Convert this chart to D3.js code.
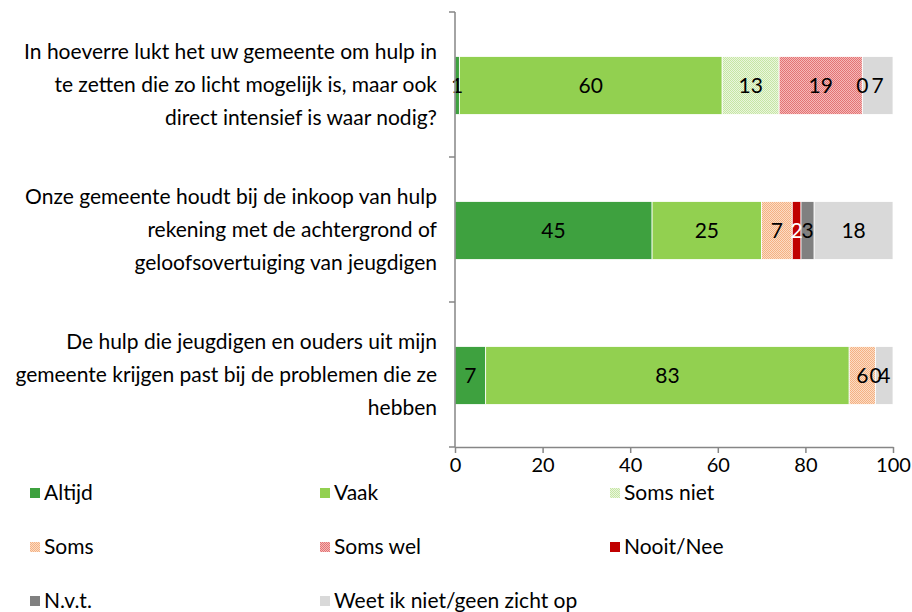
<!DOCTYPE html>
<html><head><meta charset="utf-8">
<script src="https://cdn.jsdelivr.net/npm/d3@7"></script>
<style>body{margin:0;background:#fff;} svg{display:block;font-family:Lato, "Open Sans", sans-serif;}</style>
</head><body><svg id="c" width="912" height="612"></svg>
<script>
const questions = ["Q1", "Q2", "Q3"];
const questionLines = [
  ["In hoeverre lukt het uw gemeente om hulp in", "te zetten die zo licht mogelijk is, maar ook", "direct intensief is waar nodig?"],
  ["Onze gemeente houdt bij de inkoop van hulp", "rekening met de achtergrond of", "geloofsovertuiging van jeugdigen"],
  ["De hulp die jeugdigen en ouders uit mijn", "gemeente krijgen past bij de problemen die ze", "hebben"]
];
const seriesNames = ["Altijd", "Vaak", "Soms niet", "Soms", "Soms wel", "Nooit/Nee", "N.v.t.", "Weet ik niet/geen zicht op"];
const altijd   = [1, 45, 7];
const vaak     = [60, 25, 83];
const somsNiet = [13, null, null];
const soms     = [null, 7, 6];
const somsWel  = [19, null, null];
const nooit    = [null, 2, null];
const nvt      = [0, 3, 0];
const weetNiet = [7, 18, 4];
const xTicks = [0, 20, 40, 60, 80, 100];

const seriesValues = [altijd, vaak, somsNiet, soms, somsWel, nooit, nvt, weetNiet];

const svg = d3.select("#c");
const defs = svg.append("defs");
function pat(id, bg, fg) {
  const p = defs.append("pattern").attr("id", id).attr("patternUnits", "userSpaceOnUse")
    .attr("width", 2).attr("height", 2);
  p.append("rect").attr("width", 2).attr("height", 2).attr("fill", bg);
  p.append("rect").attr("x", 0).attr("y", 0).attr("width", 1).attr("height", 1).attr("fill", fg);
  p.append("rect").attr("x", 1).attr("y", 1).attr("width", 1).attr("height", 1).attr("fill", fg);
}
pat("pSomsNiet", "#eaf6dd", "#c6e6a4");
pat("pSoms", "#fcdcc4", "#f4b183");
pat("pSomsWel", "#f6b8b8", "#e27474");

const fills = ["#3ea13f", "#92d050", "url(#pSomsNiet)", "url(#pSoms)", "url(#pSomsWel)", "#c00000", "#808080", "#d9d9d9"];
const labelColors = ["#000", "#000", "#000", "#000", "#000", "#fff", "#000", "#000"];
const fs = 21;

const x = d3.scaleLinear().domain([0, 100]).range([455, 893]);
const y = d3.scaleBand().domain(questions).range([12, 447]).padding(0);
const barH = y.bandwidth() * 0.4;

const rows = [];
questions.forEach((q, qi) => {
  let acc = 0;
  seriesValues.forEach((vals, si) => {
    const v = vals[qi];
    if (v === null) return;
    rows.push({q, qi, si, v, x0: acc, x1: acc + v});
    acc += v;
  });
});

const g = svg.append("g");
g.selectAll("rect.bar").data(rows).join("rect")
  .attr("class", "bar")
  .attr("x", d => x(d.x0))
  .attr("width", d => x(d.x1) - x(d.x0))
  .attr("y", d => y(d.q) + (y.bandwidth() - barH) / 2 + 1)
  .attr("height", barH)
  .attr("fill", d => fills[d.si])
  .attr("stroke", "#fff").attr("stroke-width", d => d.v > 0 ? 0.8 : 0);

g.selectAll("text.lbl").data(rows).join("text")
  .attr("class", "lbl")
  .attr("x", d => x((d.x0 + d.x1) / 2))
  .attr("y", d => y(d.q) + y.bandwidth() / 2 + 1)
  .attr("dy", "0.35em")
  .attr("text-anchor", "middle")
  .attr("font-size", fs)
  .attr("fill", d => labelColors[d.si])
  .text(d => d.v);

const axisColor = "#868686";
svg.append("line").attr("x1", 455).attr("x2", 455).attr("y1", y.range()[0]).attr("y2", y.range()[1])
  .attr("stroke", axisColor).attr("stroke-width", 1.5);
const bounds = questions.map(q => y(q)).concat([y.range()[1]]);
svg.selectAll("line.lt").data(bounds).join("line").attr("class", "lt")
  .attr("x1", 449).attr("x2", 455).attr("y1", d => d).attr("y2", d => d)
  .attr("stroke", axisColor).attr("stroke-width", 1.5);

questions.forEach((q, qi) => {
  const lines = questionLines[qi];
  const cy = y(q) + y.bandwidth() / 2;
  const lh = 33;
  lines.forEach((t, li) => {
    svg.append("text").attr("x", 437).attr("y", cy + (li - (lines.length - 1) / 2) * lh)
      .attr("dy", "0.35em").attr("text-anchor", "end").attr("font-size", fs).attr("fill", "#000").text(t);
  });
});

const ax = svg.append("g").attr("transform", "translate(0,447)")
  .call(d3.axisBottom(x).tickValues(xTicks).tickSize(6).tickSizeOuter(0).tickPadding(5));
ax.select(".domain").attr("stroke", axisColor).attr("stroke-width", 1.5);
ax.selectAll(".tick line").attr("stroke", axisColor).attr("stroke-width", 1.5);
ax.selectAll(".tick text").attr("font-size", 20).attr("fill", "#000").attr("font-family", "Lato, sans-serif");

const legCols = [30, 320, 610];
const legRows = [493, 547, 601];
const leg = svg.append("g");
seriesNames.forEach((n, i) => {
  const cx = legCols[i % 3], cy = legRows[Math.floor(i / 3)];
  leg.append("rect").attr("x", cx).attr("y", cy - 5).attr("width", 10).attr("height", 10).attr("fill", fills[i]);
  leg.append("text").attr("x", cx + 14).attr("y", cy).attr("dy", "0.35em").attr("font-size", fs).attr("fill", "#000").text(n);
});
</script></body></html>
